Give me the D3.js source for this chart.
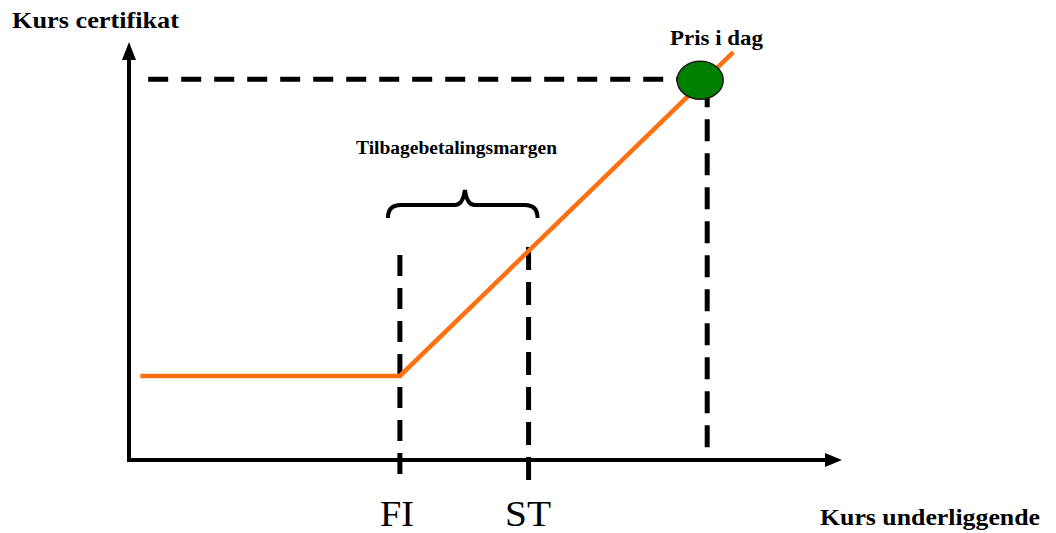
<!DOCTYPE html>
<html><head><meta charset="utf-8">
<script src="https://cdn.jsdelivr.net/npm/d3@7"></script>
<style>body{margin:0;background:#fff}svg{display:block}text{font-family:"Liberation Serif","Times New Roman",serif}</style>
</head><body><svg id="c" width="1056" height="533"></svg>
<script>
// Payoff profile (conceptual units: underlying price vs certificate price)
const payoffX = [1.6, 38.1, 85.0];
const payoffY = [20.1, 20.1, 97.6];
const markerNames = ["FI", "ST"];
const markerX = [38.1, 56.2];
const todayX = [80.9];
const todayY = [91.1];
const labels = {y: "Kurs certifikat", x: "Kurs underliggende", today: "Pris i dag", margin: "Tilbagebetalingsmargen"};

const svg = d3.select("#c");
const x = d3.scaleLinear().domain([0, 100]).range([129, 840]);
const y = d3.scaleLinear().domain([0, 100]).range([460, 42]);

const dash = "20 13";
// horizontal dashed from y-axis to today's price
svg.append("line").attr("x1", x(2.7)).attr("x2", x(todayX[0]) - 8)
  .attr("y1", y(todayY[0])).attr("y2", y(todayY[0]))
  .attr("stroke", "#000").attr("stroke-width", 5).attr("stroke-dasharray", dash);
// vertical dashed at today's price
svg.append("line").attr("x1", x(todayX[0]) + 3).attr("x2", x(todayX[0]) + 3)
  .attr("y1", y(todayY[0]) + 6).attr("y2", 450)
  .attr("stroke", "#000").attr("stroke-width", 5).attr("stroke-dasharray", "22 12");
// FI and ST dashed verticals
markerX.forEach((v, i) => {
  svg.append("line").attr("x1", x(v)).attr("x2", x(v))
    .attr("y1", i === 0 ? 255 : 247).attr("y2", 481)
    .attr("stroke", "#000").attr("stroke-width", 5).attr("stroke-dasharray", i === 0 ? "21 12" : "23 12");
});

// axes with arrows
svg.append("line").attr("x1", x(0)).attr("x2", x(0)).attr("y1", y(0) + 2).attr("y2", y(97))
  .attr("stroke", "#000").attr("stroke-width", 4);
svg.append("path").attr("d", `M${x(0)},${y(100)} l-7,18 l14,0 z`).attr("fill", "#000");
svg.append("line").attr("x1", x(0) - 2).attr("x2", x(98)).attr("y1", y(0)).attr("y2", y(0))
  .attr("stroke", "#000").attr("stroke-width", 4);
svg.append("path").attr("d", `M${x(100) + 2},${y(0)} l-17,-7 l0,14 z`).attr("fill", "#000");

// payoff line
const pts = payoffX.map((v, i) => [x(v), y(payoffY[i])]);
svg.append("path").attr("d", d3.line()(pts)).attr("fill", "none")
  .attr("stroke", "#ff7010").attr("stroke-width", 4.5).attr("stroke-linejoin", "miter");

// today marker
svg.append("ellipse").attr("cx", x(todayX[0]) - 4).attr("cy", y(todayY[0]) + 1)
  .attr("rx", 23).attr("ry", 19).attr("fill", "#008000").attr("stroke", "#1a1a1a").attr("stroke-width", 1.5);

// brace
const bl = x(markerX[0]) - 12, br = x(markerX[1]) + 9, bm = bl + 77;
svg.append("path").attr("d",
  `M${bl},218 Q${bl},205 ${bl + 13},205 L${bm - 10},205 Q${bm - 2},205 ${bm},190 Q${bm + 2},205 ${bm + 10},205 L${br - 13},205 Q${br},205 ${br},218`)
  .attr("fill", "none").attr("stroke", "#000").attr("stroke-width", 4);

// texts
function txt(s, xx, yy, size, len, bold, anchor) {
  return svg.append("text").attr("x", xx).attr("y", yy).attr("font-size", size)
    .attr("font-weight", bold ? "bold" : "normal").attr("text-anchor", anchor || "start")
    .attr("textLength", len).attr("lengthAdjust", "spacingAndGlyphs").text(s);
}
txt(labels.y, 12, 28, 24, 167, true);
txt(labels.x, 820, 525, 24, 220, true);
txt(labels.today, 670, 45, 22, 93, true);
txt(labels.margin, 356, 154, 18.5, 201, true);
txt(markerNames[0], 380, 526, 36, 34, false);
txt(markerNames[1], 505, 526, 36, 46, false);
</script></body></html>
